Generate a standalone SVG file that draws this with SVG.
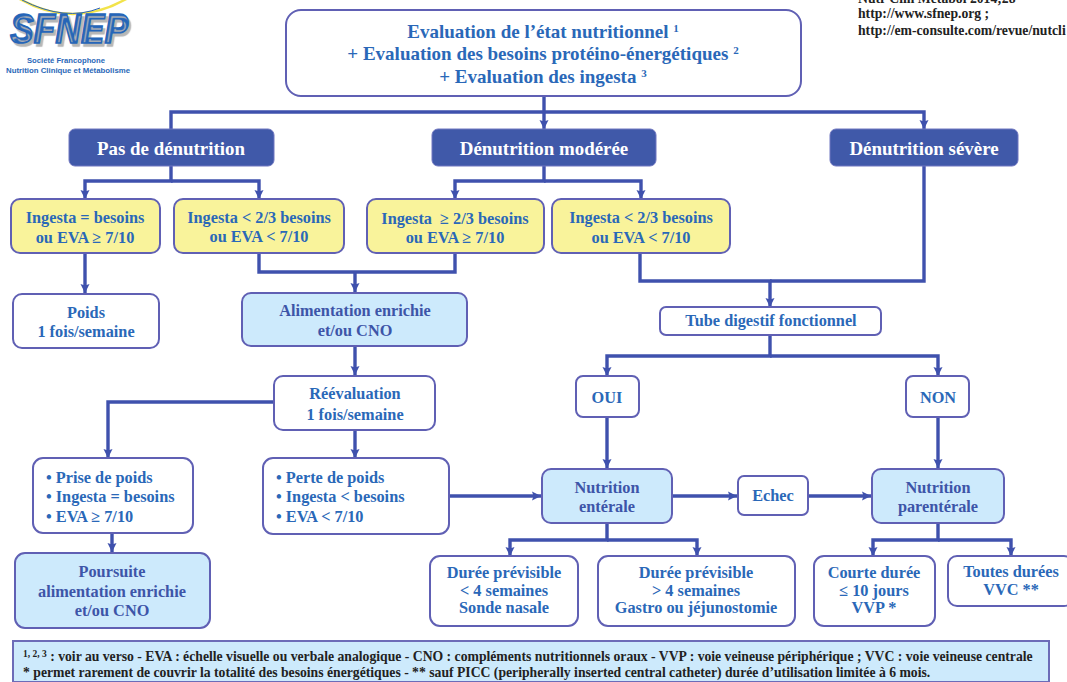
<svg xmlns="http://www.w3.org/2000/svg" width="1067" height="682" viewBox="0 0 1067 682">
<defs>
<marker id="ah" markerUnits="userSpaceOnUse" markerWidth="11" markerHeight="11" refX="9" refY="5.5" orient="auto"><path d="M0 1L9 5.5L0 10L1.5 5.5Z" fill="#3f51ad"/></marker>
</defs>
<style>
text{font-family:"Liberation Serif",serif;font-weight:bold;text-anchor:middle;fill:#2a68b8;font-size:16.3px}
.b{fill:#fff;stroke:#6060b4;stroke-width:2}
.y{fill:#f9f39b;stroke:#6060b4;stroke-width:2}
.c{fill:#cdeafc;stroke:#6060b4;stroke-width:2}
.c~text{fill:#3d55a8}
.d{fill:#4059a9;stroke:#6f76c0;stroke-width:1}
.d+text{fill:#fff;font-size:18.9px}
.t{font-size:19px}
.k{fill:#222;text-anchor:start;font-size:13.7px}
.l{text-anchor:start}
.g{font-family:"Liberation Sans",sans-serif;font-size:7.4px}
#conn path{fill:none;stroke:#3f51ad;stroke-width:3.4}
.a{marker-end:url(#ah)}
</style>
<rect width="1067" height="682" fill="#fff"/>
<g id="logo">
<path d="M18 -2Q73 30 128 -2" fill="none" stroke="#f2e34a" stroke-width="2.5"/>
<path d="M22 0Q65 22 100 8" fill="none" stroke="#2a62b5" stroke-width="1"/>
<text x="69" y="43" style="font-family:'Liberation Sans',sans-serif;font-size:43px;font-style:italic;fill:#2565b8;stroke:#2565b8;stroke-width:1.6;text-shadow:3px 3px 1px #b5b5b5" textLength="118" lengthAdjust="spacingAndGlyphs">SFNEP</text>
<text class="g" x="66" y="63" textLength="78" lengthAdjust="spacingAndGlyphs">Société Francophone</text>
<text class="g" x="68" y="73" textLength="124" lengthAdjust="spacingAndGlyphs">Nutrition Clinique et Métabolisme</text>
</g>
<g id="refs">
<text class="k" x="858" y="3">Nutr Clin Metabol 2014;28</text>
<text class="k" x="858" y="18">http://www.sfnep.org ;</text>
<text class="k" x="858" y="35">http://em-consulte.com/revue/nutcli</text>
</g>
<g id="conn">
<path d="M544 96V112"/>
<path class="a" d="M171 129V112H924V129"/>
<path class="a" d="M544 112V129"/>
<path class="a" d="M171 166V181H85V199"/>
<path class="a" d="M171 181H259V199"/>
<path class="a" d="M544 166V181H455V199"/>
<path class="a" d="M544 181H641V199"/>
<path class="a" d="M85 253V293"/>
<path d="M259 253V272H455V253"/>
<path class="a" d="M355 272V292"/>
<path class="a" d="M355 347V375"/>
<path class="a" d="M274 402H108V458"/>
<path class="a" d="M355 431V458"/>
<path class="a" d="M112 532V552"/>
<path class="a" d="M640 253V281H770V307"/>
<path d="M924 166V281H770"/>
<path class="a" d="M770 335V356H607V376"/>
<path class="a" d="M770 356H938V376"/>
<path class="a" d="M607 417V468"/>
<path class="a" d="M938 417V468"/>
<path class="a" d="M449 496H541"/>
<path class="a" d="M672 496H737"/>
<path class="a" d="M808 496H871"/>
<path class="a" d="M607 523V540H510V556"/>
<path class="a" d="M607 540H697V556"/>
<path class="a" d="M938 523V540H873V556"/>
<path class="a" d="M938 540H1011V556"/>
</g>
<g id="n-top"><rect class="b" x="286" y="10" width="515" height="86" rx="15"/>
<text class="t" x="543" y="38">Evaluation de l’état nutritionnel <tspan font-size="11" dy="-6">1</tspan></text>
<text class="t" x="543" y="60">+ Evaluation des besoins protéino-énergétiques <tspan font-size="11" dy="-6">2</tspan></text>
<text class="t" x="543" y="83">+ Evaluation des ingesta <tspan font-size="11" dy="-6">3</tspan></text></g>
<g id="n-pas"><rect class="d" x="69" y="129" width="205" height="37" rx="6"/><text x="171" y="155">Pas de dénutrition</text></g>
<g id="n-mod"><rect class="d" x="432" y="129" width="224" height="37" rx="6"/><text x="544" y="155">Dénutrition modérée</text></g>
<g id="n-sev"><rect class="d" x="830" y="129" width="188" height="37" rx="6"/><text x="924" y="155">Dénutrition sévère</text></g>
<g id="n-y1"><rect class="y" x="11" y="199" width="149" height="54" rx="9"/><text x="85" y="223">Ingesta = besoins</text><text x="85" y="243">ou EVA ≥ 7/10</text></g>
<g id="n-y2"><rect class="y" x="174" y="199" width="170" height="54" rx="9"/><text x="259" y="223">Ingesta &lt; 2/3 besoins</text><text x="259" y="242">ou EVA &lt; 7/10</text></g>
<g id="n-y3"><rect class="y" x="367" y="199" width="177" height="54" rx="9"/><text x="455" y="224">Ingesta &#160;≥ 2/3 besoins</text><text x="455" y="243">ou EVA ≥ 7/10</text></g>
<g id="n-y4"><rect class="y" x="552" y="199" width="178" height="54" rx="9"/><text x="641" y="223">Ingesta &lt; 2/3 besoins</text><text x="641" y="243">ou EVA &lt; 7/10</text></g>
<g id="n-poids"><rect class="b" x="13" y="294" width="146" height="54" rx="9"/><text x="86" y="318">Poids</text><text x="86" y="337">1 fois/semaine</text></g>
<g id="n-alim"><rect class="c" x="242" y="293" width="225" height="53" rx="9"/><text x="355" y="316">Alimentation enrichie</text><text x="355" y="336">et/ou CNO</text></g>
<g id="n-reev"><rect class="b" x="274" y="376" width="161" height="54" rx="9"/><text x="355" y="399">Réévaluation</text><text x="355" y="420">1 fois/semaine</text></g>
<g id="n-prise"><rect class="b" x="33" y="458" width="160" height="75" rx="10"/><text class="l" x="46" y="483">• Prise de poids</text><text class="l" x="46" y="502">• Ingesta = besoins</text><text class="l" x="46" y="522">• EVA ≥ 7/10</text></g>
<g id="n-perte"><rect class="b" x="263" y="458" width="186" height="76" rx="10"/><text class="l" x="276" y="483">• Perte de poids</text><text class="l" x="276" y="502">• Ingesta &lt; besoins</text><text class="l" x="276" y="522">• EVA &lt; 7/10</text></g>
<g id="n-pours"><rect class="c" x="15" y="553" width="195" height="75" rx="10"/><text x="112" y="577">Poursuite</text><text x="112" y="597">alimentation enrichie</text><text x="112" y="616">et/ou CNO</text></g>
<g id="n-tube"><rect class="b" x="660" y="307" width="221" height="28" rx="6"/><text x="771" y="326">Tube digestif fonctionnel</text></g>
<g id="n-oui"><rect class="b" x="576" y="376" width="63" height="41" rx="7"/><text x="607" y="403">OUI</text></g>
<g id="n-non"><rect class="b" x="906" y="376" width="63" height="41" rx="7"/><text x="938" y="403">NON</text></g>
<g id="n-ent"><rect class="c" x="542" y="469" width="130" height="54" rx="9"/><text x="607" y="493">Nutrition</text><text x="607" y="512">entérale</text></g>
<g id="n-echec"><rect class="b" x="738" y="476" width="70" height="39" rx="6"/><text x="773" y="501">Echec</text></g>
<g id="n-par"><rect class="c" x="872" y="469" width="132" height="54" rx="9"/><text x="938" y="493">Nutrition</text><text x="938" y="512">parentérale</text></g>
<g id="n-d1"><rect class="b" x="430" y="556" width="148" height="70" rx="10"/><text x="504" y="578">Durée prévisible</text><text x="504" y="596">&lt; 4 semaines</text><text x="504" y="613">Sonde nasale</text></g>
<g id="n-d2"><rect class="b" x="598" y="556" width="197" height="70" rx="10"/><text x="696" y="578">Durée prévisible</text><text x="696" y="596">&gt; 4 semaines</text><text x="696" y="613">Gastro ou jéjunostomie</text></g>
<g id="n-d3"><rect class="b" x="814" y="556" width="121" height="70" rx="10"/><text x="874" y="578">Courte durée</text><text x="874" y="596">≤ 10 jours</text><text x="874" y="613">VVP *</text></g>
<g id="n-d4"><rect class="b" x="948" y="556" width="125" height="50" rx="9"/><text x="1011" y="577">Toutes durées</text><text x="1011" y="595">VVC **</text></g>
<g id="legend"><rect x="13" y="641" width="1036" height="41" fill="#cdeafc" stroke="#6c6cb8" stroke-width="2"/>
<text class="k" x="23" y="661"><tspan font-size="9.5" dy="-4">1, 2, 3</tspan><tspan dy="4"> : voir au verso - EVA : échelle visuelle ou verbale analogique - CNO : compléments nutritionnels oraux - VVP : voie veineuse périphérique ; VVC : voie veineuse centrale</tspan></text>
<text class="k" x="23" y="677">* permet rarement de couvrir la totalité des besoins énergétiques - ** sauf PICC (peripherally inserted central catheter) durée d’utilisation limitée à 6 mois.</text></g>
</svg>
